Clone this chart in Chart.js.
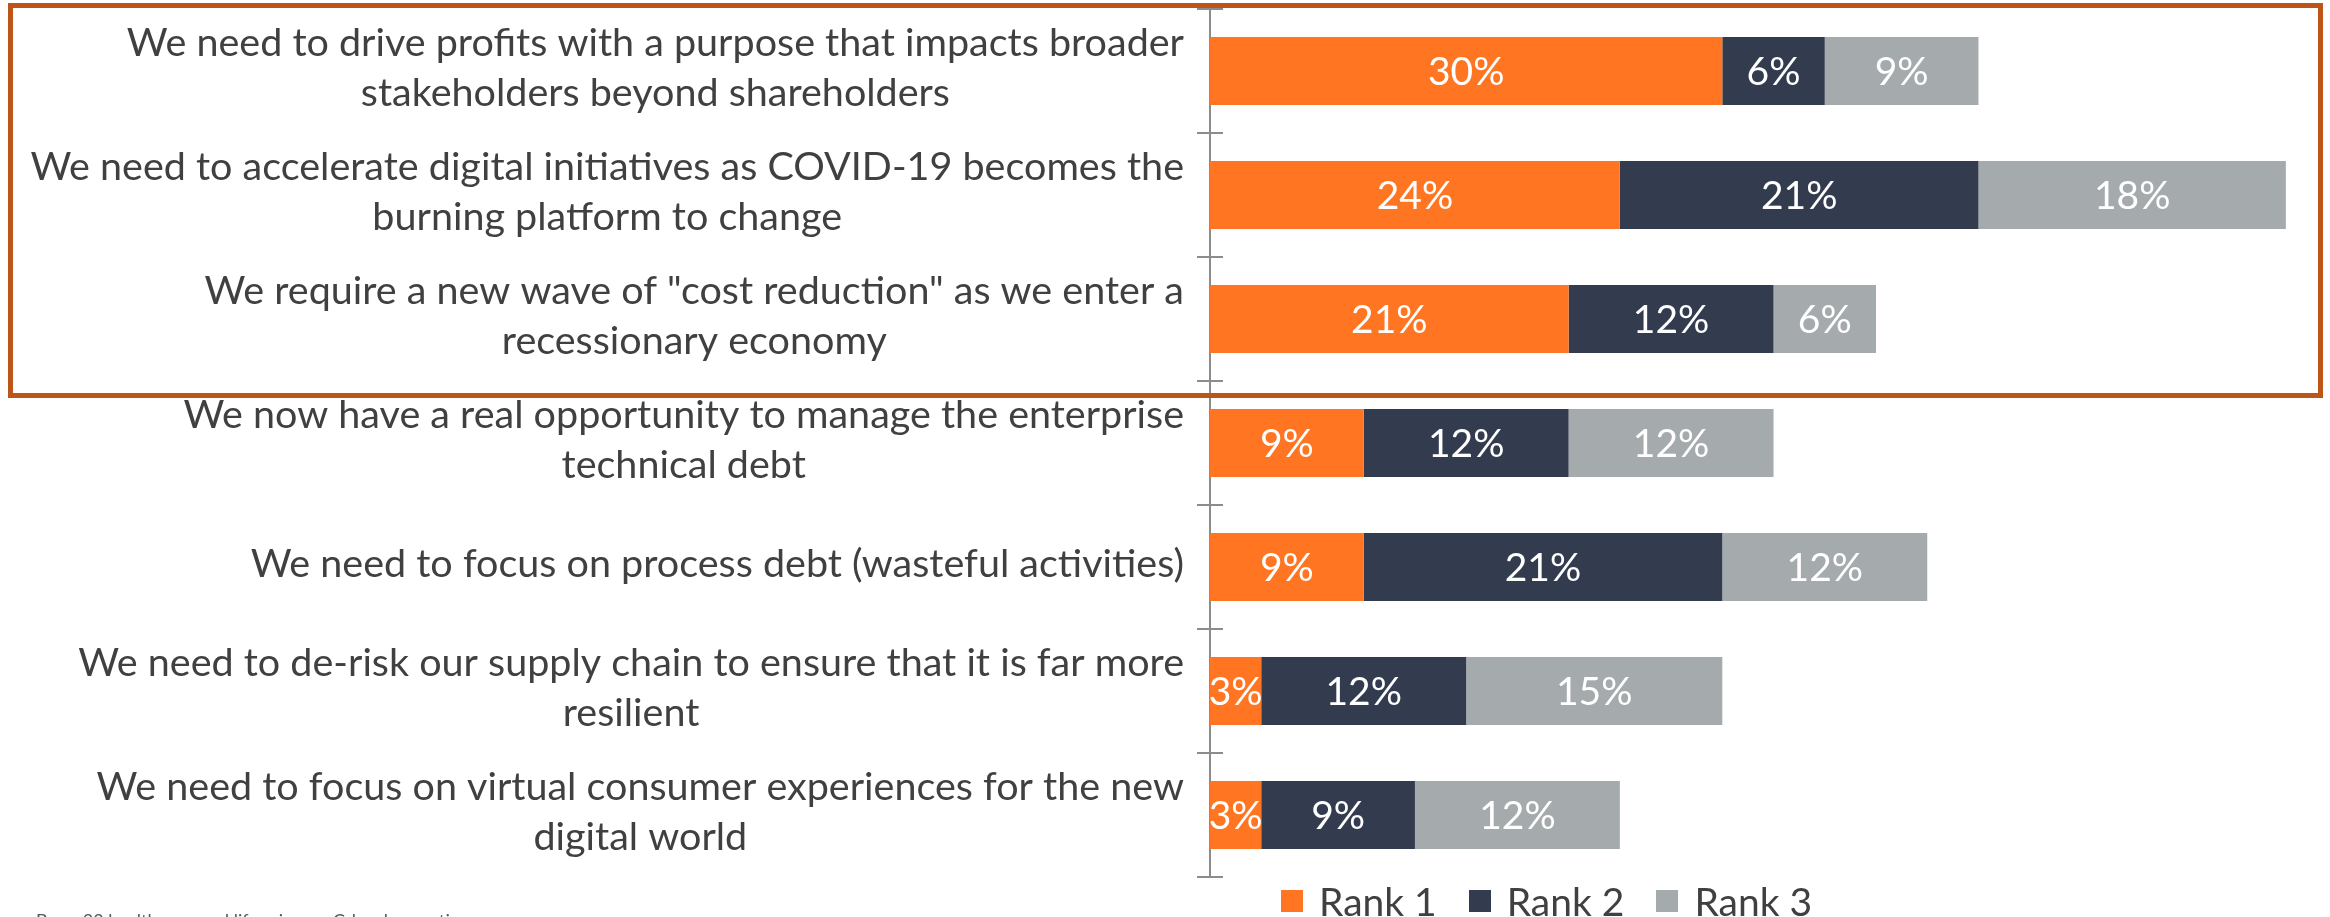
<!DOCTYPE html>
<html>
<head>
<meta charset="utf-8">
<script src="https://cdn.jsdelivr.net/npm/chart.js@4.4.1/dist/chart.umd.min.js"></script>
<style>
  html, body { margin: 0; padding: 0; background: #ffffff; }
  #wrap { position: relative; width: 2330px; height: 917px; overflow: hidden; }
  #c { position: absolute; left: 0; top: 0; }
  #box { position: absolute; left: 8px; top: 3px; width: 2315px; height: 395px; box-sizing: border-box; border: 5px solid #BD5519; pointer-events: none; }
  #legend { position: absolute; top: 878px; left: 1281px; display: flex; align-items: center; font-family: Lato, sans-serif; font-size: 39px; color: #404040; }
  .item { display: flex; align-items: center; margin-right: 32px; }
  .sw { width: 22px; height: 22px; margin-right: 16px; }
  #foot { position: absolute; left: 36px; top: 911px; font-family: Lato, sans-serif; font-size: 18px; line-height: 18px; color: #595959; white-space: nowrap; }
</style>
</head>
<body>
<div id="wrap">
  <canvas id="c" width="2330" height="917"></canvas>
  <div id="box"></div>
  <div id="legend"></div>
  <div id="foot">Base: 33 health care and life sciences C-level executives</div>
</div>
<script>
const categories = [
  ["We need to drive profits with a purpose that impacts broader", "stakeholders beyond shareholders"],
  ["We need to accelerate digital initiatives as COVID-19 becomes the", "burning platform to change"],
  ["We require a new wave of \"cost reduction\" as we enter a", "recessionary economy"],
  ["We now have a real opportunity to manage the enterprise", "technical debt"],
  ["We need to focus on process debt (wasteful activities)"],
  ["We need to de-risk our supply chain to ensure that it is far more", "resilient"],
  ["We need to focus on virtual consumer experiences for the new", "digital world"]
];
const seriesNames = ["Rank 1", "Rank 2", "Rank 3"];
const rank1 = [30, 24, 21, 9, 9, 3, 3];
const rank2 = [6, 21, 12, 12, 21, 12, 9];
const rank3 = [9, 18, 6, 12, 12, 15, 12];
const colors = ["#FF7521", "#333B4F", "#A5AAAD"];

const TEXT = "#404040";
const AXIS = "#8C8C8C";
const LABEL_FONT = "39.5px Lato, sans-serif";
const VALUE_FONT = "39px Lato, sans-serif";

const catLabelPlugin = {
  id: 'catLabels',
  afterDraw(chart) {
    const ctx = chart.ctx;
    const ys = chart.scales.y;
    const right = ys.right - 26;
    ctx.save();
    ctx.font = LABEL_FONT;
    ctx.fillStyle = TEXT;
    ctx.textAlign = 'center';
    ctx.textBaseline = 'middle';
    chart.data.labels.forEach((lines, i) => {
      const yc = ys.getPixelForValue(i) - 3;
      const w = Math.max(...lines.map(l => ctx.measureText(l).width));
      const cx = right - w / 2;
      const lh = 50;
      const y0 = yc - (lines.length - 1) * lh / 2;
      lines.forEach((l, k) => ctx.fillText(l, cx, y0 + k * lh));
    });
    ctx.restore();
  }
};

const tickCrossPlugin = {
  id: 'tickCross',
  afterDraw(chart) {
    const ctx = chart.ctx;
    const ys = chart.scales.y;
    const x = ys.right;
    ctx.save();
    ctx.strokeStyle = AXIS;
    ctx.lineWidth = 2;
    for (let i = 0; i <= chart.data.labels.length; i++) {
      const y = Math.round(ys.getPixelForValue(i - 0.5));
      ctx.beginPath();
      ctx.moveTo(x, y);
      ctx.lineTo(x + 13, y);
      ctx.stroke();
    }
    ctx.restore();
  }
};

const valueLabelPlugin = {
  id: 'valueLabels',
  afterDatasetsDraw(chart) {
    const ctx = chart.ctx;
    ctx.save();
    ctx.font = VALUE_FONT;
    ctx.fillStyle = '#ffffff';
    ctx.textAlign = 'center';
    ctx.textBaseline = 'middle';
    chart.data.datasets.forEach((ds, di) => {
      const meta = chart.getDatasetMeta(di);
      meta.data.forEach((bar, i) => {
        const v = ds.data[i];
        const cx = (bar.x + bar.base) / 2;
        ctx.fillText(v + '%', cx, bar.y + 1);
      });
    });
    ctx.restore();
  }
};

const chart = new Chart(document.getElementById('c'), {
  type: 'bar',
  data: {
    labels: categories,
    datasets: [rank1, rank2, rank3].map((d, i) => ({
      label: seriesNames[i],
      data: d,
      backgroundColor: colors[i],
      borderWidth: 0,
      barPercentage: 0.55,
      categoryPercentage: 1.0
    }))
  },
  options: {
    indexAxis: 'y',
    responsive: false,
    animation: false,
    layout: { padding: { top: 9, right: 10, bottom: 40, left: 0 } },
    plugins: {
      legend: { display: false },
      tooltip: { enabled: false }
    },
    scales: {
      x: { stacked: true, min: 0, max: 65, display: false },
      y: {
        stacked: true,
        afterFit(scale) { scale.width = 1210; },
        ticks: { display: false },
        grid: { display: true, offset: true, drawOnChartArea: false, drawTicks: true, tickLength: 13, color: AXIS, lineWidth: 2 },
        border: { display: true, color: AXIS, width: 2 }
      }
    }
  },
  plugins: [catLabelPlugin, tickCrossPlugin, valueLabelPlugin]
});

const leg = document.getElementById('legend');
chart.data.datasets.forEach(ds => {
  const it = document.createElement('div');
  it.className = 'item';
  const sw = document.createElement('div');
  sw.className = 'sw';
  sw.style.background = ds.backgroundColor;
  const t = document.createElement('span');
  t.textContent = ds.label;
  it.appendChild(sw);
  it.appendChild(t);
  leg.appendChild(it);
});
</script>
</body>
</html>
